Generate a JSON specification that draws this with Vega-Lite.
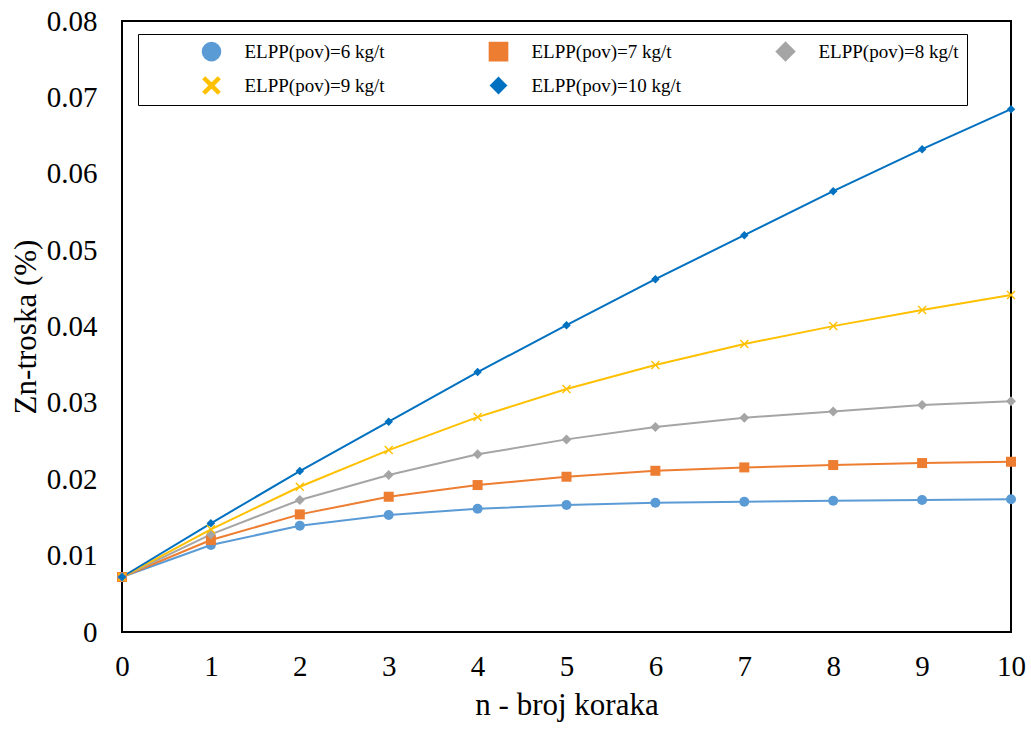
{
  "$schema": "https://vega.github.io/schema/vega-lite/v6.json",
  "width": 889,
  "height": 611,
  "autosize": "none",
  "padding": {"left": 122, "top": 21, "right": 20, "bottom": 97},
  "background": "white",
  "config": {
    "view": {"stroke": "black", "strokeWidth": 2},
    "font": "Liberation Serif",
    "style": {"guide-title": {"font": "Liberation Serif"}, "guide-label": {"font": "Liberation Serif"}},
    "axis": {"labelFont": "Liberation Serif", "titleFont": "Liberation Serif", "labelColor": "black", "titleColor": "black", "labelFontSize": 29, "titleFontSize": 31, "titleFontWeight": "normal", "grid": false, "ticks": false, "domain": false, "labelFlush": false, "labelOverlap": false},
    "legend": {"labelFont": "Liberation Serif", "labelFontSize": 19, "labelColor": "black"}
  },
  "data": {"values": [
    {"n":0,"s":"ELPP(pov)=6 kg/t","v":0.0072},{"n":1,"s":"ELPP(pov)=6 kg/t","v":0.01139},{"n":2,"s":"ELPP(pov)=6 kg/t","v":0.01392},{"n":3,"s":"ELPP(pov)=6 kg/t","v":0.01531},{"n":4,"s":"ELPP(pov)=6 kg/t","v":0.01614},{"n":5,"s":"ELPP(pov)=6 kg/t","v":0.01662},{"n":6,"s":"ELPP(pov)=6 kg/t","v":0.01693},{"n":7,"s":"ELPP(pov)=6 kg/t","v":0.01706},{"n":8,"s":"ELPP(pov)=6 kg/t","v":0.01719},{"n":9,"s":"ELPP(pov)=6 kg/t","v":0.01728},{"n":10,"s":"ELPP(pov)=6 kg/t","v":0.01737},
    {"n":0,"s":"ELPP(pov)=7 kg/t","v":0.0072},{"n":1,"s":"ELPP(pov)=7 kg/t","v":0.01204},{"n":2,"s":"ELPP(pov)=7 kg/t","v":0.0154},{"n":3,"s":"ELPP(pov)=7 kg/t","v":0.01771},{"n":4,"s":"ELPP(pov)=7 kg/t","v":0.01924},{"n":5,"s":"ELPP(pov)=7 kg/t","v":0.02033},{"n":6,"s":"ELPP(pov)=7 kg/t","v":0.02111},{"n":7,"s":"ELPP(pov)=7 kg/t","v":0.02155},{"n":8,"s":"ELPP(pov)=7 kg/t","v":0.02186},{"n":9,"s":"ELPP(pov)=7 kg/t","v":0.02212},{"n":10,"s":"ELPP(pov)=7 kg/t","v":0.02229},
    {"n":0,"s":"ELPP(pov)=8 kg/t","v":0.0072},{"n":1,"s":"ELPP(pov)=8 kg/t","v":0.01279},{"n":2,"s":"ELPP(pov)=8 kg/t","v":0.01728},{"n":3,"s":"ELPP(pov)=8 kg/t","v":0.02055},{"n":4,"s":"ELPP(pov)=8 kg/t","v":0.02326},{"n":5,"s":"ELPP(pov)=8 kg/t","v":0.02522},{"n":6,"s":"ELPP(pov)=8 kg/t","v":0.02683},{"n":7,"s":"ELPP(pov)=8 kg/t","v":0.02805},{"n":8,"s":"ELPP(pov)=8 kg/t","v":0.02888},{"n":9,"s":"ELPP(pov)=8 kg/t","v":0.02971},{"n":10,"s":"ELPP(pov)=8 kg/t","v":0.0302},
    {"n":0,"s":"ELPP(pov)=9 kg/t","v":0.0072},{"n":1,"s":"ELPP(pov)=9 kg/t","v":0.01344},{"n":2,"s":"ELPP(pov)=9 kg/t","v":0.01902},{"n":3,"s":"ELPP(pov)=9 kg/t","v":0.02382},{"n":4,"s":"ELPP(pov)=9 kg/t","v":0.02814},{"n":5,"s":"ELPP(pov)=9 kg/t","v":0.03181},{"n":6,"s":"ELPP(pov)=9 kg/t","v":0.03495},{"n":7,"s":"ELPP(pov)=9 kg/t","v":0.0377},{"n":8,"s":"ELPP(pov)=9 kg/t","v":0.04005},{"n":9,"s":"ELPP(pov)=9 kg/t","v":0.04215},{"n":10,"s":"ELPP(pov)=9 kg/t","v":0.04411},
    {"n":0,"s":"ELPP(pov)=10 kg/t","v":0.0072},{"n":1,"s":"ELPP(pov)=10 kg/t","v":0.01423},{"n":2,"s":"ELPP(pov)=10 kg/t","v":0.02107},{"n":3,"s":"ELPP(pov)=10 kg/t","v":0.02753},{"n":4,"s":"ELPP(pov)=10 kg/t","v":0.03403},{"n":5,"s":"ELPP(pov)=10 kg/t","v":0.04018},{"n":6,"s":"ELPP(pov)=10 kg/t","v":0.0462},{"n":7,"s":"ELPP(pov)=10 kg/t","v":0.05196},{"n":8,"s":"ELPP(pov)=10 kg/t","v":0.05772},{"n":9,"s":"ELPP(pov)=10 kg/t","v":0.06322},{"n":10,"s":"ELPP(pov)=10 kg/t","v":0.06846}
  ]},
  "encoding": {
    "x": {"field": "n", "type": "quantitative", "scale": {"domain": [0, 10], "nice": false}, "axis": {"values": [0,1,2,3,4,5,6,7,8,9,10], "title": "n - broj koraka", "labelPadding": 20, "titlePadding": 9}},
    "y": {"field": "v", "type": "quantitative", "scale": {"domain": [0, 0.08], "nice": false}, "axis": {"values": [0,0.01,0.02,0.03,0.04,0.05,0.06,0.07,0.08], "labelExpr": "datum.value == 0 ? '0' : format(datum.value, '.2f')", "title": "Zn-troska (%)", "labelPadding": 25, "titlePadding": 4}}
  },
  "layer": [
    {
      "mark": {"type": "line", "strokeWidth": 2},
      "encoding": {
        "color": {"field": "s", "type": "nominal", "sort": null, "scale": {"domain": ["ELPP(pov)=6 kg/t","ELPP(pov)=7 kg/t","ELPP(pov)=8 kg/t","ELPP(pov)=9 kg/t","ELPP(pov)=10 kg/t"], "range": ["#5B9BD5","#ED7D31","#A5A5A5","#FFC000","#0070C0"]}, "legend": {
          "orient": "none", "legendX": 16, "legendY": 13, "title": null, "direction": "horizontal", "columns": 3, "columnPadding": 38, "rowPadding": 9, "padding": 7.5, "symbolOffset": 56, "gridAlign": "all",
          "labelFont": "Liberation Serif", "labelFontSize": 19, "labelColor": "black", "labelOffset": 23, "labelLimit": 300, "symbolSize": 312, "symbolStrokeWidth": 2,
          "strokeColor": "black", "fillColor": "white",
          "encode": {"symbols": {"update": {
            "shape": {"signal": "datum.value == 'ELPP(pov)=6 kg/t' ? 'M-1.5,-0.07L1.5,-0.07L1.5,0.07L-1.5,0.07ZM0.29,0L0.251,0.145L0.145,0.251L0,0.29L-0.145,0.251L-0.251,0.145L-0.29,0L-0.251,-0.145L-0.145,-0.251L0,-0.29L0.145,-0.251L0.251,-0.145Z' : datum.value == 'ELPP(pov)=7 kg/t' ? 'M-1.5,-0.07L1.5,-0.07L1.5,0.07L-1.5,0.07ZM-0.27,-0.27L0.27,-0.27L0.27,0.27L-0.27,0.27Z' : datum.value == 'ELPP(pov)=8 kg/t' ? 'M-1.5,-0.07L1.5,-0.07L1.5,0.07L-1.5,0.07ZM0,-0.33L0.33,0L0,0.33L-0.33,0Z' : datum.value == 'ELPP(pov)=9 kg/t' ? 'M-1.5,-0.07L1.5,-0.07L1.5,0.07L-1.5,0.07ZM-0.27,-0.27L0.27,0.27M-0.27,0.27L0.27,-0.27' : 'M-1.5,-0.07L1.5,-0.07L1.5,0.07L-1.5,0.07ZM0,-0.3L0.3,0L0,0.3L-0.3,0Z'"},
            "fill": {"signal": "scale('color', datum.value)"},
            "size": {"value": 312}
          }}}
        }}
      }
    },
    {
      "mark": {"type": "point", "filled": true, "opacity": 1, "size": 100},
      "encoding": {
        "fill": {"field": "s", "type": "nominal", "sort": null, "scale": {"domain": ["ELPP(pov)=6 kg/t","ELPP(pov)=7 kg/t","ELPP(pov)=8 kg/t","ELPP(pov)=9 kg/t","ELPP(pov)=10 kg/t"], "range": ["#5B9BD5","#ED7D31","#A5A5A5","#FFC000","#0070C0"]}, "legend": null},
        "shape": {"field": "s", "type": "nominal", "sort": null, "scale": {"domain": ["ELPP(pov)=6 kg/t","ELPP(pov)=7 kg/t","ELPP(pov)=8 kg/t","ELPP(pov)=9 kg/t","ELPP(pov)=10 kg/t"], "range": ["circle", "square", "diamond", "M-0.9,-0.7L-0.7,-0.9L0,-0.2L0.7,-0.9L0.9,-0.7L0.2,0L0.9,0.7L0.7,0.9L0,0.2L-0.7,0.9L-0.9,0.7L-0.2,0Z", "M0,-0.85L0.85,0L0,0.85L-0.85,0Z"]}, "legend": null}
      }
    }
  ]
}
